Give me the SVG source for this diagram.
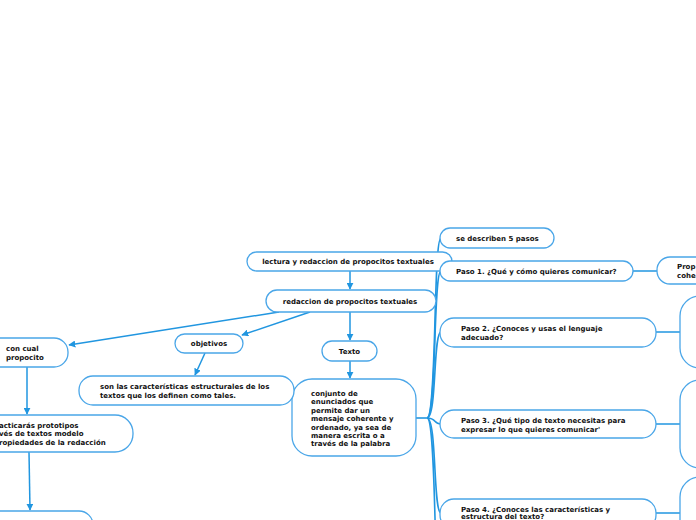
<svg xmlns="http://www.w3.org/2000/svg" width="696" height="520" viewBox="0 0 696 520">
<defs>
<marker id="ah" viewBox="0 0 10 10" refX="9" refY="5" markerWidth="7" markerHeight="7" markerUnits="userSpaceOnUse" orient="auto">
<path d="M0,0 L10,5 L0,10 z" fill="#2196e0"/>
</marker>
<style>
.n{fill:#fff;stroke:#4aa6e8;stroke-width:1.3}
.t{font-family:"DejaVu Sans","Liberation Sans",sans-serif;font-size:7px;font-weight:bold;fill:#111}
.c{text-anchor:middle}
.l{fill:none;stroke:#2196e0;stroke-width:1.5}
.a{marker-end:url(#ah)}
.b{fill:none;stroke:#2196e0;stroke-width:1.6}
</style>
</defs>
<rect width="696" height="520" fill="#fff"/>
<g id="connectors">
<path class="l a" d="M350,271 L350,289"/>
<path class="l a" d="M350,312 L350,340"/>
<path class="l a" d="M350,361 L350,378"/>
<path class="l a" d="M279,312 L69,345"/>
<path class="l a" d="M310,312 L242,335"/>
<path class="l a" d="M205,353 L195,375"/>
<path class="l a" d="M27,367 L27,414"/>
<path class="l a" d="M29,452 L30,510"/>
<path class="b" d="M416,418 L427,418"/>
<path class="b" d="M427,418 C437,418 433,238 441,238"/>
<path class="b" d="M427,418 C437,418 433,271 441,271"/>
<path class="b" d="M427,418 C437,418 433,332 441,332"/>
<path class="b" d="M427,418 C437,418 433,424 441,424"/>
<path class="b" d="M427,418 C437,418 433,513 441,513"/>
<path class="b" d="M427,418 C437,418 433,600 441,600"/>
<path class="l" d="M633,271 L657,271"/>
<path class="l" d="M656,332 L680,332"/>
<path class="l" d="M656,424 L680,424"/>
<path class="l" d="M656,513 L680,513"/>
</g>
<g id="n1"><rect class="n" x="247" y="252" width="205" height="19" rx="9.5"/><text class="t c" x="348" y="264">lectura y redaccion de propocitos textuales</text></g>
<g id="n2"><rect class="n" x="266" y="290" width="170" height="22" rx="11"/><text class="t c" x="350" y="304">redaccion de propocitos textuales</text></g>
<g id="n3"><rect class="n" x="322" y="341" width="55" height="20" rx="10"/><text class="t c" x="349.5" y="353.5">Texto</text></g>
<g id="n4"><rect class="n" x="292" y="379" width="124" height="77" rx="20"/><text class="t" x="311" y="396">conjunto de<tspan x="311" y="404.4">enunciados que</tspan><tspan x="311" y="412.8">permite dar un</tspan><tspan x="311" y="421.2">mensaje coherente y</tspan><tspan x="311" y="429.6">ordenado, ya sea de</tspan><tspan x="311" y="438">manera escrita o a</tspan><tspan x="311" y="446.4">través de la palabra</tspan></text></g>
<g id="n5"><rect class="n" x="175" y="334" width="68" height="19" rx="9.5"/><text class="t c" x="209" y="346">objetivos</text></g>
<g id="n6"><rect class="n" x="-30" y="338" width="98" height="29" rx="14"/><text class="t" x="6" y="351">con cual<tspan x="6" y="360">propocito</tspan></text></g>
<g id="n7"><rect class="n" x="79" y="376" width="215" height="29" rx="14"/><text class="t" x="100" y="388.5">son las características estructurales de los<tspan x="100" y="397.5">textos que los definen como tales.</tspan></text></g>
<g id="n8"><rect class="n" x="-40" y="415" width="173" height="37" rx="18"/><text class="t" x="-1" y="427.5">acticarás prototipos<tspan x="-1" y="436.2">vés de textos modelo</tspan><tspan x="-1" y="445.2">ropiedades de la redacción</tspan></text></g>
<g id="n9"><rect class="n" x="-40" y="511" width="133" height="30" rx="14"/></g>
<g id="n10"><rect class="n" x="440" y="228" width="114" height="20" rx="10"/><text class="t" x="456" y="241">se describen 5 pasos</text></g>
<g id="n11"><rect class="n" x="440" y="261" width="193" height="20" rx="10"/><text class="t" x="456" y="273.5">Paso 1. ¿Qué y cómo quieres comunicar?</text></g>
<g id="n12"><rect class="n" x="657" y="257" width="80" height="27" rx="13"/><text class="t" x="677" y="269">Prop<tspan x="677" y="277.5">cohe</tspan></text></g>
<g id="n13"><rect class="n" x="440" y="318" width="216" height="29" rx="14"/><text class="t" x="461" y="331">Paso 2. ¿Conoces y usas el lenguaje<tspan x="461" y="339.5">adecuado?</tspan></text></g>
<g id="n14"><rect class="n" x="680" y="296" width="60" height="72" rx="20"/></g>
<g id="n15"><rect class="n" x="440" y="410" width="216" height="28" rx="14"/><text class="t" x="461" y="423">Paso 3. ¿Qué tipo de texto necesitas para<tspan x="461" y="432">expresar lo que quieres comunicar'</tspan></text></g>
<g id="n16"><rect class="n" x="680" y="380" width="60" height="88" rx="20"/></g>
<g id="n17"><rect class="n" x="440" y="499" width="216" height="30" rx="14"/><text class="t" x="461" y="511.5">Paso 4. ¿Conoces las características y<tspan x="461" y="519">estructura del texto?</tspan></text></g>
<g id="n18"><rect class="n" x="680" y="477" width="60" height="80" rx="20"/></g>
</svg>
